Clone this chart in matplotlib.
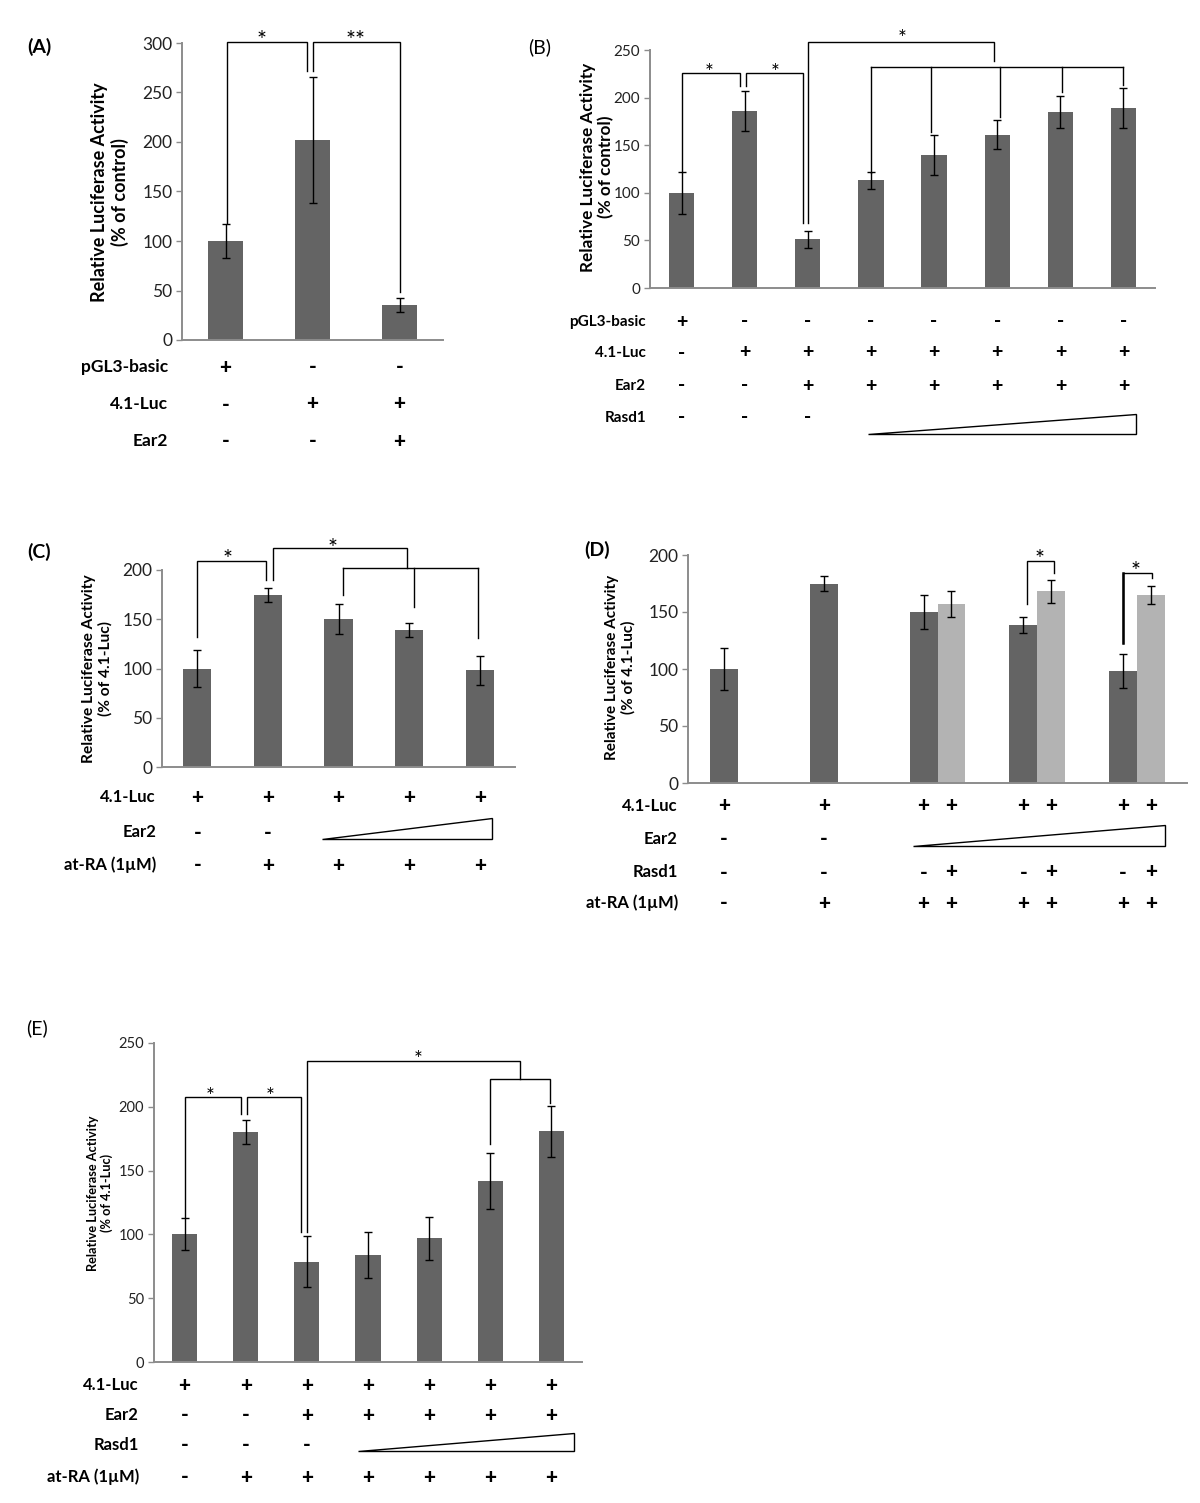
import numpy as np
import matplotlib.pyplot as plt
import matplotlib.transforms as mtransforms
from matplotlib.patches import Polygon

plt.rcParams['font.family'] = ['Lato', 'DejaVu Sans']

W, H = 1200, 1503
DARK = '#646464'
LIGHT = '#b3b3b3'
AXC = '#8c8c8c'

# ---- data ----
# (A)
a_rows = ['pGL3-basic', '4.1-Luc', 'Ear2']
a_signs = [['+', '-', '-'], ['-', '+', '+'], ['-', '-', '+']]
a_vals = [100, 202, 35]
a_err = [17, 64, 7]

# (B)
b_rows = ['pGL3-basic', '4.1-Luc', 'Ear2', 'Rasd1']
b_signs = [['+', '-', '-', '-', '-', '-', '-', '-'],
           ['-', '+', '+', '+', '+', '+', '+', '+'],
           ['-', '-', '+', '+', '+', '+', '+', '+'],
           ['-', '-', '-']]
b_vals = [100, 186, 51, 113, 140, 161, 185, 189]
b_err = [22, 21, 8.5, 9, 21, 15, 17, 21]

# (C)
c_rows = ['4.1-Luc', 'Ear2', 'at-RA (1µM)']
c_signs = [['+', '+', '+', '+', '+'],
           ['-', '-'],
           ['-', '+', '+', '+', '+']]
c_vals = [100, 175, 150, 139, 98]
c_err = [18.5, 7, 15, 7.5, 15]

# (D)  dark = without Rasd1, light = with Rasd1
d_rows = ['4.1-Luc', 'Ear2', 'Rasd1', 'at-RA (1µM)']
d_signs = [['+', '+', '+', '+', '+', '+', '+', '+'],
           ['-', '-'],
           ['-', '-', '-', '+', '-', '+', '-', '+'],
           ['-', '+', '+', '+', '+', '+', '+', '+']]
d_dark = [100, 175, 150, 139, 98]
d_dark_err = [18, 7, 15, 7, 15]
d_light = [np.nan, np.nan, 157, 168, 165]
d_light_err = [np.nan, np.nan, 11, 10, 8]

# (E)
e_rows = ['4.1-Luc', 'Ear2', 'Rasd1', 'at-RA (1µM)']
e_signs = [['+', '+', '+', '+', '+', '+', '+'],
           ['-', '-', '+', '+', '+', '+', '+'],
           ['-', '-', '-'],
           ['-', '+', '+', '+', '+', '+', '+']]
e_vals = [100, 180.5, 78.5, 83.5, 97, 142, 181]
e_err = [12.5, 9.5, 20, 18, 17, 22, 20]

fig = plt.figure(figsize=(W / 100, H / 100), dpi=100)


def px_axes(x0, x1, ybot, ytop):
    return fig.add_axes([x0 / W, 1 - ybot / H, (x1 - x0) / W, (ybot - ytop) / H])


def style(ax, n, ymax, tick_fs):
    ax.set_xlim(-0.5, n - 0.5)
    ax.set_ylim(0, ymax)
    ax.set_yticks(np.arange(0, ymax + 1, 50))
    ax.set_xticks([])
    for s in ['top', 'right']:
        ax.spines[s].set_visible(False)
    for s in ['left', 'bottom']:
        ax.spines[s].set_color(AXC)
        ax.spines[s].set_linewidth(1.4)
    ax.tick_params(axis='y', direction='out', length=4, width=1, color=AXC,
                   labelsize=tick_fs, pad=3, labelcolor='#222222')
    ax.patch.set_alpha(0)


def bars(ax, x, vals, err, width, color=DARK):
    ax.bar(x, vals, width=width, color=color, zorder=2)
    ax.errorbar(x, vals, yerr=err, fmt='none', ecolor='black', elinewidth=1,
                capsize=3, capthick=1, zorder=3)


def bracket(ax, x0, x1, top, b0, b1, lw=1.0):
    ax.plot([x0, x0, x1, x1], [b0, top, top, b1], color='black', lw=lw,
            clip_on=False, solid_joinstyle='miter')


def comb(ax, xs, top, bottoms):
    ax.plot([xs[0], xs[-1]], [top, top], color='black', lw=1.0, clip_on=False)
    for x, b in zip(xs, bottoms):
        ax.plot([x, x], [top, b], color='black', lw=1.0, clip_on=False)


def star(ax, x, y, s='*', fs=17):
    # asterisk glyph sits high in the em box: shift baseline down
    ax.annotate(s, (x, y), xytext=(0, -0.6 * fs), textcoords='offset points',
                ha='center', va='baseline', fontsize=fs, annotation_clip=False)


def ylabel(xc, yc, text, fs):
    fig.text(xc / W, 1 - yc / H, text, rotation=90, ha='center', va='center',
             fontsize=fs, fontweight='bold', linespacing=1.15, multialignment='center')


def table(ax, rows, signs, xpos, ypx, label_x, fs, sign_fs):
    tr = mtransforms.blended_transform_factory(ax.transData, fig.transFigure)
    for name, row, y in zip(rows, signs, ypx):
        fig.text(label_x / W, 1 - y / H, name, ha='right', va='center',
                 fontsize=fs, fontweight='bold')
        for x, s in zip(xpos, row):
            ax.text(x, 1 - y / H, s, transform=tr, ha='center', va='center',
                    fontsize=sign_fs, fontweight='black', clip_on=False)


def wedge(ax, x0, x1, ybot, ytop):
    tr = mtransforms.blended_transform_factory(ax.transData, fig.transFigure)
    tri = Polygon([[x0, 1 - ybot / H], [x1, 1 - ybot / H], [x1, 1 - ytop / H]],
                  closed=True, facecolor='white', edgecolor='black', lw=1.0,
                  transform=tr, clip_on=False)
    ax.add_patch(tri)


def panel_tag(x, y, text, bold):
    fig.text(x / W, 1 - y / H, text, ha='left', va='center', fontsize=14,
             fontweight='bold' if bold else 'normal')


# ---- (A) ----
axA = px_axes(182, 443, 340, 43)
xa = np.arange(len(a_vals))
bars(axA, xa, a_vals, a_err, 0.40)
style(axA, len(a_vals), 300, 12.5)
bracket(axA, 0.02, 0.94, 301, 118, 272)
bracket(axA, 1.01, 2.0, 301, 272, 48)
star(axA, 0.42, 310)
star(axA, 1.49, 310, '**')
ylabel(110, 192, 'Relative Luciferase Activity\n(% of control)', 13)
table(axA, a_rows, a_signs, xa, [367, 404, 441], 168, 12.5, 15)
panel_tag(27, 47, '(A)', True)

# ---- (B) ----
axB = px_axes(650, 1155, 288, 50)
xb = np.arange(len(b_vals))
bars(axB, xb, b_vals, b_err, 0.40)
style(axB, len(b_vals), 250, 11)
bracket(axB, 0.0, 0.93, 225.5, 122, 212)
bracket(axB, 1.02, 1.92, 225.5, 212, 68)
bracket(axB, 2.0, 4.95, 258, 68, 238)
comb(axB, [3.0, 3.95, 5.04, 6.02, 7.0], 232, [121, 164, 180, 206, 213])
star(axB, 0.43, 233, fs=15)
star(axB, 1.49, 233, fs=15)
star(axB, 3.5, 268, fs=15)
ylabel(597, 167, 'Relative Luciferase Activity\n(% of control)', 12.3)
table(axB, b_rows, b_signs, xb, [322, 353, 386, 418], 646, 11, 14)
wedge(axB, 2.96, 7.2, 434, 414)
panel_tag(528, 47, '(B)', False)

# ---- (C) ----
axC = px_axes(162, 515, 767, 570)
xc = np.arange(len(c_vals))
bars(axC, xc, c_vals, c_err, 0.40)
style(axC, len(c_vals), 200, 12.5)
bracket(axC, 0.0, 0.97, 209, 132, 190)
bracket(axC, 1.07, 2.97, 222, 190, 202)
comb(axC, [2.06, 3.07, 3.98], 202, [175, 162, 131])
star(axC, 0.43, 218)
star(axC, 1.91, 230)
ylabel(97, 669, 'Relative Luciferase Activity\n(% of 4.1-Luc)', 11.2)
table(axC, c_rows, c_signs, xc, [797, 832, 865], 156, 12, 15)
wedge(axC, 1.77, 4.18, 839, 818)
panel_tag(27, 552, '(C)', True)

# ---- (D) ----
axD = px_axes(688, 1187, 783, 555)
xd = np.arange(len(d_dark))
bw = 0.28
bars(axD, xd - bw / 2, d_dark, d_dark_err, bw, DARK)
bars(axD, xd + bw / 2, d_light, d_light_err, bw, LIGHT)
style(axD, len(d_dark), 200, 12.5)
bracket(axD, 2.90, 3.17, 194.7, 157, 184)
bracket(axD, 3.86, 4.15, 184, 123, 180)
axD.plot([3.86, 3.86], [184, 123], color='black', lw=1.8, clip_on=False)
star(axD, 3.02, 203)
star(axD, 3.98, 192)
ylabel(620, 667, 'Relative Luciferase Activity\n(% of 4.1-Luc)', 11)
d_sign_x = [0 - bw / 2, 1 - bw / 2, 2 - bw / 2, 2 + bw / 2,
            3 - bw / 2, 3 + bw / 2, 4 - bw / 2, 4 + bw / 2]
table(axD, d_rows, d_signs, d_sign_x, [806, 839, 872, 903], 678, 12, 15)
wedge(axD, 1.75, 4.28, 846, 825)
panel_tag(584, 550, '(D)', True)

# ---- (E) ----
axE = px_axes(154, 582, 1362, 1043)
xe = np.arange(len(e_vals))
bars(axE, xe, e_vals, e_err, 0.41)
style(axE, len(e_vals), 250, 10.5)
bracket(axE, 0.0, 0.93, 207.8, 114, 194)
bracket(axE, 1.02, 1.90, 207.8, 194, 101.6)
bracket(axE, 2.0, 5.49, 235.7, 101.6, 222)
bracket(axE, 5.0, 5.97, 222, 171, 203)
star(axE, 0.42, 213, fs=15)
star(axE, 1.40, 213, fs=15)
star(axE, 3.82, 242, fs=15)
ylabel(100, 1193, 'Relative Luciferase Activity\n(% of 4.1-Luc)', 9.2)
table(axE, e_rows, e_signs, xe, [1385, 1415, 1445, 1477], 139, 12, 15)
wedge(axE, 2.83, 6.37, 1451, 1433)
panel_tag(26, 1028, '(E)', False)

fig.savefig('out.png', dpi=100)
